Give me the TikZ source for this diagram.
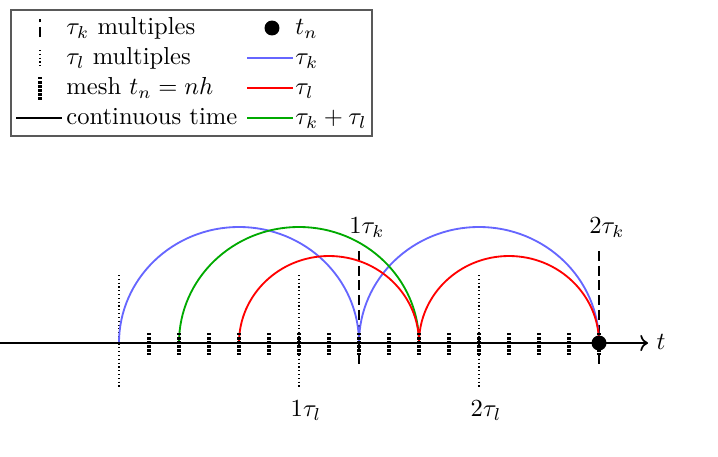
\documentclass[tikz,border=0pt]{standalone}
\usetikzlibrary{arrows.meta}
\definecolor{kblue}{RGB}{102,102,255}
\definecolor{lred}{RGB}{255,0,0}
\definecolor{sgreen}{RGB}{0,170,0}
\begin{document}
\begin{tikzpicture}[x=0.407pt,y=-0.407pt,
  lbl/.style={inner sep=0pt, text height=1.5ex, text depth=.25ex},
  taukline/.style={line width=0.8pt, dash pattern=on 4pt off 2pt},
  taulline/.style={line width=0.45pt, dash pattern=on 0.45pt off 1.1pt},
  meshtick/.style={line width=1.4pt, dash pattern=on 1pt off 0.65pt},
  axisline/.style={line width=0.7pt},
  arcline/.style={line width=0.75pt},
  legline/.style={line width=0.6pt},
  dotnode/.style={circle, fill=black, inner sep=0pt, minimum size=6.1pt}
]
\useasboundingbox (0,0) rectangle (718,456);

% legend
\draw[black!65, line width=0.6pt] (11,10) rectangle (372,136);
\draw[taukline] (40,37) coordinate (lkb) -- (40,19) coordinate (lka);
\draw[taulline] (40,50) coordinate (lla) -- (40,67) coordinate (llb);
\draw[meshtick] (40,77) coordinate (lma) -- (40,100) coordinate (lmb);
\draw[legline] (16,118) coordinate (lca) -- (62,118) coordinate (lcb);
\node[lbl, anchor=west] (ltk) at (66,28) {$\tau_k$ multiples};
\node[lbl, anchor=west] (ltl) at (66,58) {$\tau_l$ multiples};
\node[lbl, anchor=west] (ltm) at (66,88) {mesh $t_n=nh$};
\node[lbl, anchor=west] (ltc) at (66,118) {continuous time};
\node[dotnode] (ldot) at (272,28) {};
\node[lbl, anchor=west] (ltn) at (295,28) {$t_n$};
\draw[legline, kblue] (247,58) coordinate (lba) -- (293,58) coordinate (lbb);
\node[lbl, anchor=west] (lbk) at (295,58) {$\tau_k$};
\draw[legline, lred] (247,88) coordinate (lra) -- (293,88) coordinate (lrb);
\node[lbl, anchor=west] (lrl) at (295,88) {$\tau_l$};
\draw[legline, sgreen] (247,118) coordinate (lga) -- (293,118) coordinate (lgb);
\node[lbl, anchor=west] (lgs) at (295,118) {$\tau_k+\tau_l$};

% multiples
\foreach \x in {119,299,479} \draw[taulline] (\x,275) -- (\x,389);
\foreach \x in {359,599} \draw[taukline] (\x,251) -- (\x,366);

% arcs
\coordinate (p0) at (119,343);
\coordinate (p2) at (179,343);
\coordinate (p4) at (239,343);
\coordinate (p8) at (359,343);
\coordinate (p10) at (419,343);
\draw[arcline, kblue] (p0) arc[start angle=180, end angle=360, x radius=120, y radius=116];
\draw[arcline, kblue] (p8) arc[start angle=180, end angle=360, x radius=120, y radius=116];
\draw[arcline, sgreen] (p2) arc[start angle=180, end angle=360, x radius=120, y radius=116];
\draw[arcline, lred] (p4) arc[start angle=180, end angle=360, x radius=90, y radius=87];
\draw[arcline, lred] (p10) arc[start angle=180, end angle=360, x radius=90, y radius=87];

% axis
\coordinate (axs) at (0,343);
\coordinate (axe) at (648,343);
\draw[axisline, ->] (axs) -- (axe);
\node[lbl, anchor=west] (tlab) at (656,343) {$t$};

% mesh
\foreach \n in {1,...,16} \draw[meshtick] (119+30*\n,333) -- (119+30*\n,355);

\node[dotnode] (tn) at (599,343) {};

% labels
\node[lbl] (k1) at (367,227) {$1\tau_k$};
\node[lbl] (k2) at (607,227) {$2\tau_k$};
\node[lbl] (l1) at (306,410) {$1\tau_l$};
\node[lbl] (l2) at (486,410) {$2\tau_l$};
\end{tikzpicture}
\end{document}
